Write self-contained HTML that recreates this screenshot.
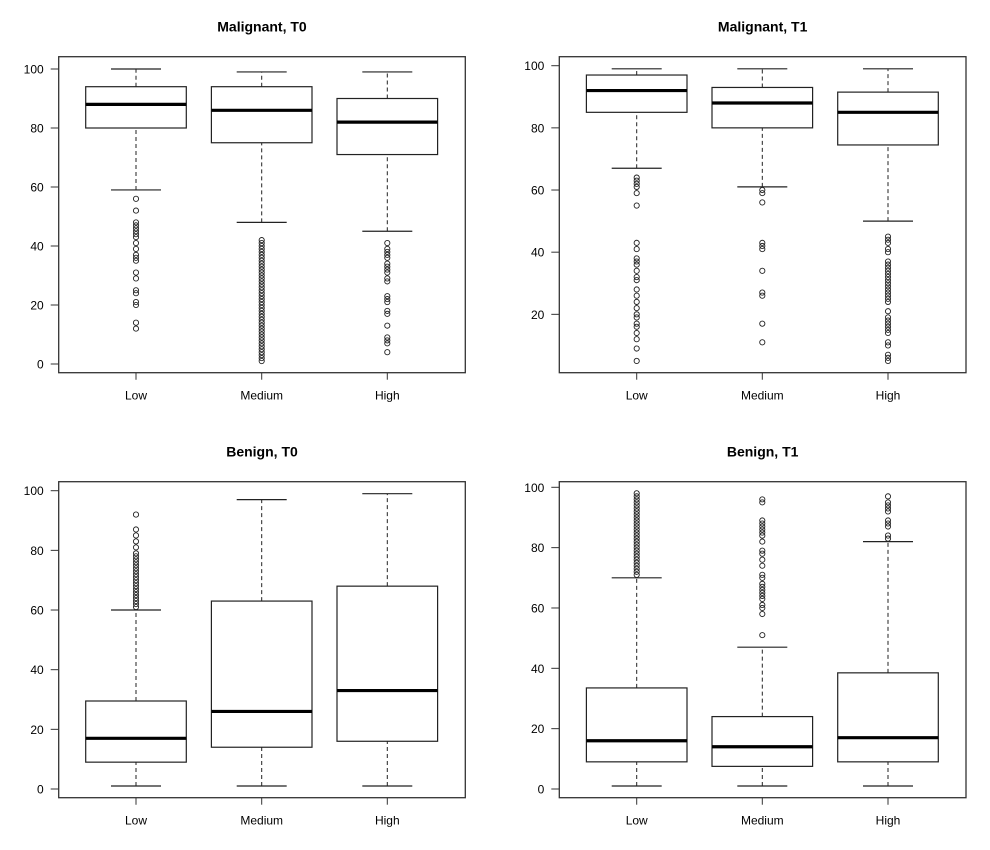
<!DOCTYPE html>
<html><head><meta charset="utf-8">
<style>html,body{margin:0;padding:0;background:#fff;}svg{display:block;}
text{font-family:"Liberation Sans",Arial,sans-serif;fill:#000;}</style></head>
<body>
<svg id="s" width="990" height="850" xmlns="http://www.w3.org/2000/svg"></svg>
<script>
var NS="http://www.w3.org/2000/svg",S=document.getElementById('s');
function el(t,a,txt){var e=document.createElementNS(NS,t);for(var k in a)e.setAttribute(k,a[k]);if(txt!=null)e.textContent=txt;S.appendChild(e);return e;}
function rng(a,b){var r=[];for(var i=a;i<=b;i++)r.push(i);return r;}
var panels=[
{x0:58.7,x1:465.3,y0:56.7,y1:372.7,z:364,sc:2.95,ticks:[0,20,40,60,80,100],cx:[136,261.7,387.3],title:"Malignant, T0",
 b:[[59,80,88,94,100,[56,52,48,47,46,45,44,43,41,39,37,36,35,31,29,25,24,21,20,14,12]],
    [48,75,86,94,99,rng(1,42)],
    [45,71,82,90,99,[41,39,38,37,36,34,33,32,31,29,28,23,22,21,18,17,13,9,8,7,4]]]},
{x0:559.3,x1:966,y0:56.7,y1:372.7,z:376.5,sc:3.108,ticks:[20,40,60,80,100],cx:[636.7,762.3,888],title:"Malignant, T1",
 b:[[67,85,92,97,99,[64,63,62,61,59,55,43,41,38,37,36,34,32,31,28,26,24,22,20,19,17,16,14,12,9,5]],
    [61,80,88,93,99,[60,59,56,43,42,41,34,27,26,17,11]],
    [50,74.5,85,91.5,99,[45,44,43,41,40].concat(rng(24,37),[21,19,18,17,16,15,14,11,10,7,6,5])]]},
{x0:58.7,x1:465.3,y0:481.7,y1:797.7,z:789,sc:2.983,ticks:[0,20,40,60,80,100],cx:[136,261.7,387.3],title:"Benign, T0",
 b:[[1,9,17,29.5,60,rng(61,79).concat([81,83,85,87,92])],
    [1,14,26,63,97,[]],
    [1,16,33,68,99,[]]]},
{x0:559.3,x1:966,y0:481.7,y1:797.7,z:789,sc:3.017,ticks:[0,20,40,60,80,100],cx:[636.7,762.3,888],title:"Benign, T1",
 b:[[1,9,16,33.5,70,rng(71,98)],
    [1,7.5,14,24,47,[51,58,60,61,63,64,65,66,67,68,70,71,74,76,78,79,82,84,85,86,87,88,89,95,96]],
    [1,9,17,38.5,82,[83,84,87,88,89,92,93,94,95,97]]]}
];
var labs=["Low","Medium","High"];
panels.forEach(function(p){
  var Y=function(v){return p.z-p.sc*v;};
  el('text',{x:(p.x0+p.x1)/2,y:p.y0-25,'text-anchor':'middle','font-size':'14','font-weight':'bold'},p.title);
  p.ticks.forEach(function(t){
    el('line',{x1:p.x0-8,x2:p.x0,y1:Y(t),y2:Y(t),stroke:'#333','stroke-width':1});
    el('text',{x:p.x0-15,y:Y(t)+4.5,'text-anchor':'end','font-size':'12'},t);
  });
  p.b.forEach(function(b,i){
    var c=p.cx[i],hw=50.3,cw=25;
    el('line',{x1:c,x2:c,y1:Y(b[0]),y2:Y(b[1]),stroke:'#222','stroke-width':1,'stroke-dasharray':'4,3'});
    el('line',{x1:c,x2:c,y1:Y(b[3]),y2:Y(b[4]),stroke:'#222','stroke-width':1,'stroke-dasharray':'4,3'});
    el('line',{x1:c-cw,x2:c+cw,y1:Y(b[0]),y2:Y(b[0]),stroke:'#222','stroke-width':1.2});
    el('line',{x1:c-cw,x2:c+cw,y1:Y(b[4]),y2:Y(b[4]),stroke:'#222','stroke-width':1.2});
    el('rect',{x:c-hw,y:Y(b[3]),width:2*hw,height:Y(b[1])-Y(b[3]),fill:'#fff',stroke:'#222','stroke-width':1.2});
    el('line',{x1:c-hw,x2:c+hw,y1:Y(b[2]),y2:Y(b[2]),stroke:'#000','stroke-width':3.2});
    b[5].forEach(function(o){el('circle',{cx:c,cy:Y(o),r:2.6,fill:'none',stroke:'#222','stroke-width':0.9});});
    el('line',{x1:c,x2:c,y1:p.y1,y2:p.y1+7,stroke:'#333','stroke-width':1});
    el('text',{x:c,y:p.y1+27,'text-anchor':'middle','font-size':'12'},labs[i]);
  });
  el('rect',{x:p.x0,y:p.y0,width:p.x1-p.x0,height:p.y1-p.y0,fill:'none',stroke:'#333','stroke-width':1.3});
});
</script>
</body></html>
